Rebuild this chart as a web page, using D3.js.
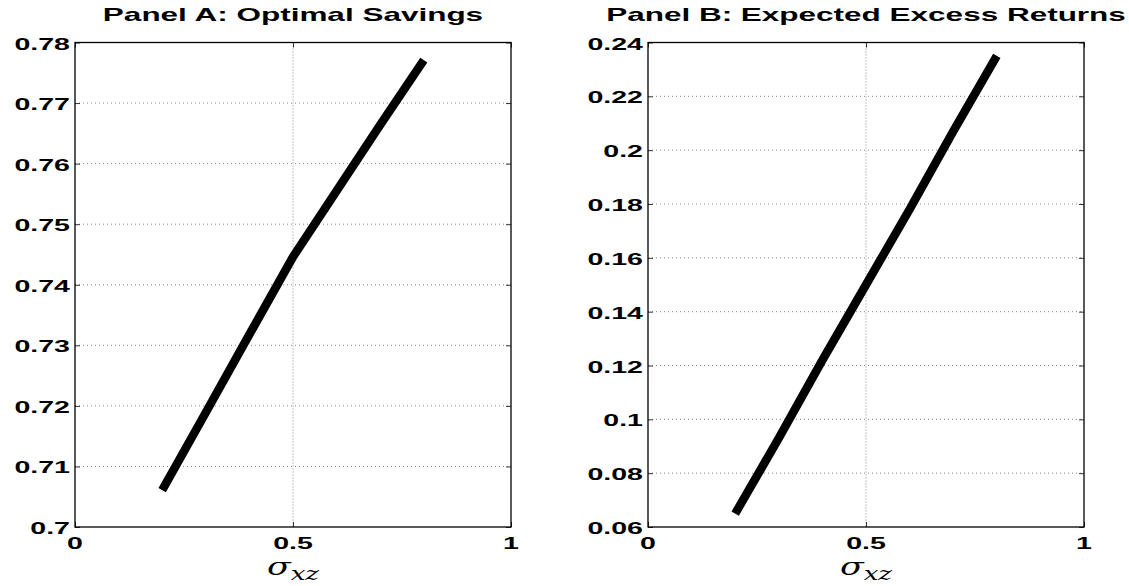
<!DOCTYPE html>
<html>
<head>
<meta charset="utf-8">
<script src="https://cdn.jsdelivr.net/npm/d3@7"></script>
<style>
  html, body { margin: 0; padding: 0; background: #fff; }
  svg { display: block; }
  .tick-label { font-family: "Liberation Sans", Arial, sans-serif; font-weight: bold; fill: #000; }
  .title { font-family: "Liberation Sans", Arial, sans-serif; font-weight: bold; fill: #000; }
  .xlab { font-family: "DejaVu Serif", "Liberation Serif", serif; font-style: italic; fill: #000; }
</style>
</head>
<body>
<svg id="fig" width="1129" height="586"></svg>
<script>
// Correlation grid (x axis of both panels)
const sigma = [0.2, 0.3, 0.4, 0.5, 0.6, 0.7, 0.8];
// Panel A: optimal savings
const savings = [0.7061, 0.7189, 0.7318, 0.7446, 0.7555, 0.7664, 0.7771];
// Panel B: expected excess returns
const excessReturns = [0.065, 0.093, 0.122, 0.150, 0.178, 0.207, 0.235];

const xTicks = [0, 0.5, 1];
const xTickLabels = ["0", "0.5", "1"];
const savingsTicks = [0.70, 0.71, 0.72, 0.73, 0.74, 0.75, 0.76, 0.77, 0.78];
const savingsTickLabels = ["0.7", "0.71", "0.72", "0.73", "0.74", "0.75", "0.76", "0.77", "0.78"];
const returnTicks = [0.06, 0.08, 0.10, 0.12, 0.14, 0.16, 0.18, 0.20, 0.22, 0.24];
const returnTickLabels = ["0.06", "0.08", "0.1", "0.12", "0.14", "0.16", "0.18", "0.2", "0.22", "0.24"];
const panelTitles = ["Panel A: Optimal Savings", "Panel B: Expected Excess Returns"];

const svg = d3.select("#fig");
const plotTop = 42.5, plotH = 484.5, plotW = 436;

const panels = [
  { left: 75,  title: panelTitles[0], y: savings, domain: [0.70, 0.78], ticks: savingsTicks, labels: savingsTickLabels },
  { left: 648, title: panelTitles[1], y: excessReturns, domain: [0.06, 0.24], ticks: returnTicks, labels: returnTickLabels }
];

// the figure text is set wide: glyphs are stretched horizontally
const tickFont = 17, tickStretch = 1.68;
const titleFont = 17.5, titleStretch = 1.8;

panels.forEach(p => {
  const g = svg.append("g").attr("transform", `translate(${p.left},${plotTop})`);
  const x = d3.scaleLinear().domain([0, 1]).range([0, plotW]);
  const y = d3.scaleLinear().domain(p.domain).range([plotH, 0]);

  // dotted grid
  g.append("g").selectAll("line").data(p.ticks.slice(1, -1)).join("line")
    .attr("x1", 0).attr("x2", plotW).attr("y1", d => y(d)).attr("y2", d => y(d))
    .attr("stroke", "#8a8a8a").attr("stroke-width", 1).attr("stroke-dasharray", "1,3");
  g.append("g").selectAll("line").data(xTicks.slice(1, -1)).join("line")
    .attr("y1", 0).attr("y2", plotH).attr("x1", d => x(d)).attr("x2", d => x(d))
    .attr("stroke", "#8a8a8a").attr("stroke-width", 1).attr("stroke-dasharray", "1,2");

  // inward ticks on all four sides
  const tl = 5;
  const axL = d3.axisRight(y).tickValues(p.ticks).tickSize(tl).tickFormat("");
  const axR = d3.axisLeft(y).tickValues(p.ticks).tickSize(tl).tickFormat("");
  const axB = d3.axisTop(x).tickValues(xTicks).tickSize(tl).tickFormat("");
  const axT = d3.axisBottom(x).tickValues(xTicks).tickSize(tl).tickFormat("");
  [[axL, 0, 0], [axR, plotW, 0], [axB, 0, plotH], [axT, 0, 0]].forEach(([ax, tx, ty]) => {
    const a = g.append("g").attr("transform", `translate(${tx},${ty})`).call(ax);
    a.select(".domain").remove();
    a.selectAll("line").attr("stroke", "#333");
  });

  // frame
  g.append("rect").attr("x", 0).attr("y", 0).attr("width", plotW).attr("height", plotH)
    .attr("fill", "none").attr("stroke", "#000").attr("stroke-width", 1.3);

  // y tick labels
  g.append("g").selectAll("text").data(p.ticks).join("text")
    .attr("class", "tick-label")
    .attr("transform", d => `translate(-5,${y(d) + 7}) scale(${tickStretch},1)`)
    .attr("text-anchor", "end").attr("font-size", tickFont)
    .text((d, i) => p.labels[i]);

  // x tick labels
  g.append("g").selectAll("text").data(xTicks).join("text")
    .attr("class", "tick-label")
    .attr("transform", d => `translate(${x(d)},${plotH + 22}) scale(${tickStretch},1)`)
    .attr("text-anchor", "middle").attr("font-size", tickFont)
    .text((d, i) => xTickLabels[i]);

  // x axis label: sigma_xz
  const xl = g.append("text").attr("class", "xlab")
    .attr("transform", `translate(${plotW / 2},${plotH + 48}) scale(1.45,1)`)
    .attr("text-anchor", "middle");
  xl.append("tspan").attr("font-size", 24).text("σ");
  xl.append("tspan").attr("font-size", 18).attr("dy", 5).text("xz");

  // title
  g.append("text").attr("class", "title")
    .attr("transform", `translate(${plotW / 2},${-21.5}) scale(${titleStretch},1)`)
    .attr("text-anchor", "middle").attr("font-size", titleFont)
    .text(p.title);

  // data line
  const line = d3.line().x((d, i) => x(sigma[i])).y(d => y(d));
  g.append("path").datum(p.y).attr("d", line)
    .attr("fill", "none").attr("stroke", "#000").attr("stroke-width", 8.5)
    .attr("stroke-linecap", "butt").attr("stroke-linejoin", "round");
});
</script>
</body>
</html>
